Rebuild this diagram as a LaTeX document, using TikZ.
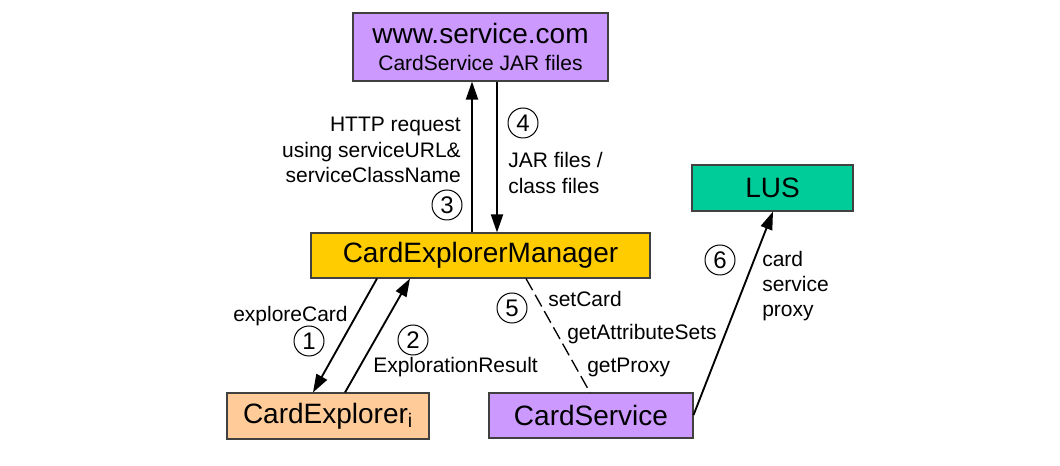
\documentclass[tikz,border=0pt]{standalone}
\usepackage{fontspec}
\setmainfont{Liberation Sans}
\usetikzlibrary{arrows.meta}
\definecolor{cpurple}{HTML}{CC99FF}
\definecolor{cyellow}{HTML}{FFCC00}
\definecolor{cpeach}{HTML}{FFCC99}
\definecolor{cgreen}{HTML}{00CC99}
\definecolor{cborder}{HTML}{404040}
\newcommand{\bigf}{\fontsize{21}{25}\selectfont}
\newcommand{\smallf}{\fontsize{15.75}{19}\selectfont}
\newcommand{\numf}{\fontsize{18}{20}\selectfont}
\tikzset{
  box/.style={draw=cborder, line width=0.8pt, inner sep=0pt, align=center, font=\bigf},
  arr/.style={line width=1.4pt, -{Triangle[length=13.5pt,width=9pt]}},
  lbl/.style={inner sep=0pt, font=\smallf},
  num/.style={circle, draw, line width=0.75pt, minimum size=22.5pt, inner sep=0pt, font=\numf},
  dash5/.style={line width=1pt, dash pattern=on 10pt off 4pt},
}
\begin{document}
\begin{tikzpicture}[x=0.75pt,y=-0.75pt]
\useasboundingbox (0,0) rectangle (1060,466);
% boxes
\node[box, fill=cpurple, minimum width=191.25pt, minimum height=51pt] (www) at (480.5,47)
  {www.service.com\\[-5pt]{\smallf CardService JAR files}};
\node[box, fill=cyellow, minimum width=254.25pt, minimum height=33.75pt] (cem) at (480.5,255.5) {CardExplorerManager};
\node[box, fill=cpeach, minimum width=151.5pt, minimum height=34.5pt] (ce) at (328,416) {CardExplorer\textsubscript{i}};
\node[box, fill=cpurple, minimum width=153pt, minimum height=33.75pt] (cs) at (591,415.5) {CardService};
\node[box, fill=cgreen, minimum width=120.75pt, minimum height=34.5pt] (lus) at (772.5,188) {LUS};
% helper x positions
\coordinate (x3) at (472,0);
\coordinate (x4) at (497,0);
\coordinate (x1a) at (377,0);
\coordinate (x1b) at (313,0);
\coordinate (x2a) at (345,0);
\coordinate (x2b) at (410,0);
\coordinate (x5a) at (526,0);
\coordinate (x5b) at (590,0);
\coordinate (y6) at (0,415);
\coordinate (x6) at (773,0);
% connectors
\draw[arr] (cem.north -| x3) -- (www.south -| x3);
\draw[arr] (www.south -| x4) -- (cem.north -| x4);
\draw[arr] (cem.south -| x1a) -- (ce.north -| x1b);
\draw[arr] (ce.north -| x2a) -- (cem.south -| x2b);
\draw[dash5] (cem.south -| x5a) -- (cs.north -| x5b);
\draw[arr] (cs.east |- y6) -- (lus.south -| x6);
% labels
\node[lbl, anchor=east, align=right] (t3) at (461,150) {HTTP request\\using serviceURL\&\\serviceClassName};
\node[num] (n3) at (447,205) {3};
\node[num] (n4) at (523,123) {4};
\node[lbl, anchor=west, align=left] (t4) at (508,173) {JAR files /\\class files};
\node[lbl, anchor=west] (t1) at (233,316) {exploreCard};
\node[num] (n1) at (309,341) {1};
\node[num] (n2) at (413,340) {2};
\node[lbl, anchor=west] (t2) at (373,367) {ExplorationResult};
\node[num] (n5) at (512,308) {5};
\node[lbl, anchor=west] (t5a) at (548,299) {setCard};
\node[lbl, anchor=west] (t5b) at (567,334) {getAttributeSets};
\node[lbl, anchor=west] (t5c) at (587,367) {getProxy};
\node[num] (n6) at (720,260) {6};
\node[lbl, anchor=west, align=left] (t6) at (762,286) {card\\service\\proxy};
\end{tikzpicture}
\end{document}
